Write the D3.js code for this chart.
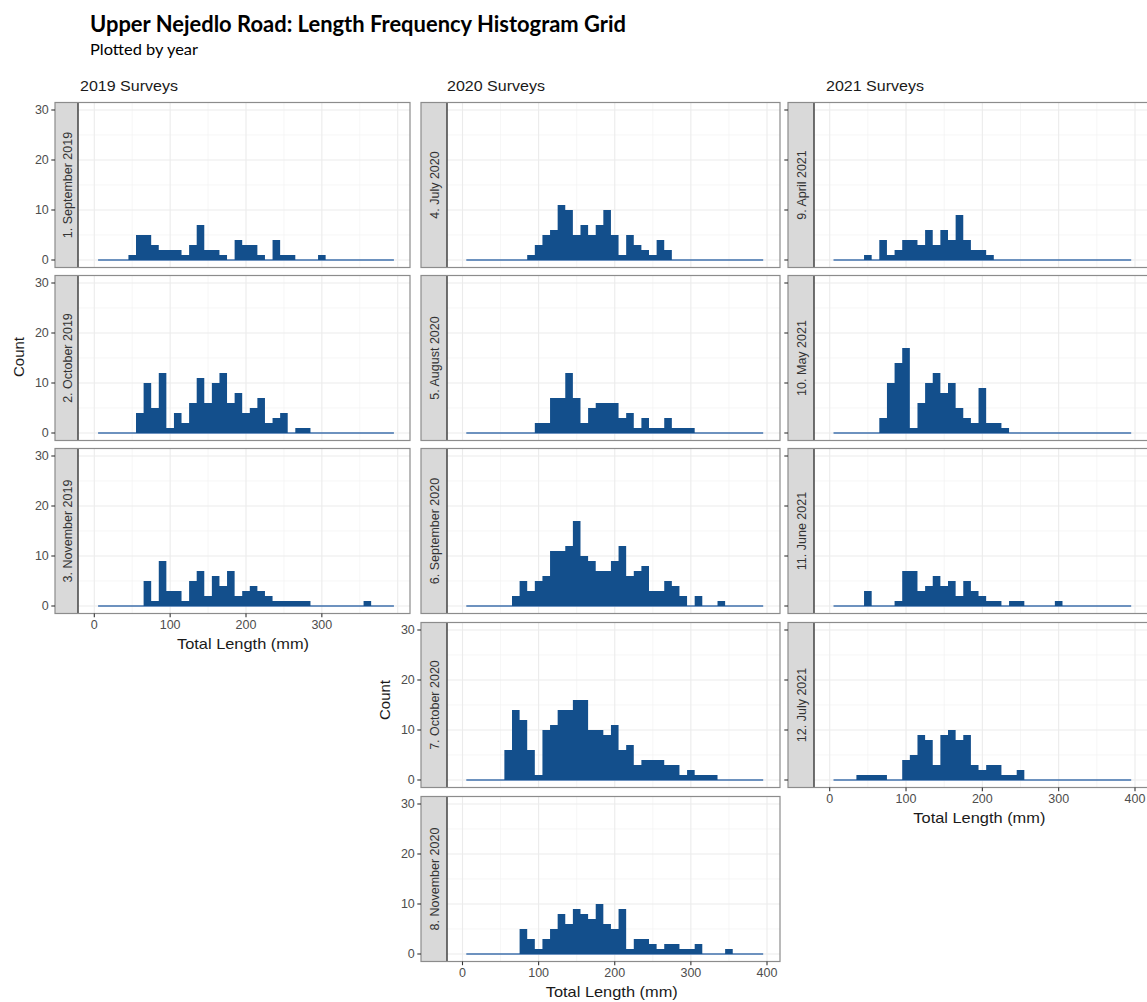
<!DOCTYPE html>
<html>
<head>
<meta charset="utf-8">
<script src="https://cdn.jsdelivr.net/npm/d3@7"></script>
<style>
  body { margin: 0; background: #fff; }
</style>
</head>
<body>
<div id="viz"></div>
<script>
// bin edges (mm), 10 mm wide bins
const binEdges = [5, 15, 25, 35, 45, 55, 65, 75, 85, 95, 105, 115, 125, 135, 145, 155, 165, 175, 185, 195,
                  205, 215, 225, 235, 245, 255, 265, 275, 285, 295, 305, 315, 325, 335, 345, 355, 365, 375, 385, 395];

const surveyLabels = ['1. September 2019', '2. October 2019', '3. November 2019',
                      '4. July 2020', '5. August 2020', '6. September 2020', '7. October 2020', '8. November 2020',
                      '9. April 2021', '10. May 2021', '11. June 2021', '12. July 2021'];
const columnTitles = ['2019 Surveys', '2020 Surveys', '2021 Surveys'];
const xTicks = [0, 100, 200, 300, 400];
const xMinor = [-50, 50, 150, 250, 350];
const yTicks = [0, 10, 20, 30];
const yMinor = [5, 15, 25];

// counts per bin, one array per survey
const sep2019 = [0,0,0,0,1,5,5,3,2,2, 2,1,3,7,2,2,1,0,4,3, 3,1,0,4,1,1,0,0,0,1, 0,0,0,0,0,0,0,0,0];
const oct2019 = [0,0,0,0,0,4,10,5,12,1, 4,2,6,11,6,10,12,6,8,4, 5,7,2,3,4,0,1,1,0,0, 0,0,0,0,0,0,0,0,0];
const nov2019 = [0,0,0,0,0,0,5,1,9,3, 3,1,5,7,2,6,4,7,2,3, 4,3,2,1,1,1,1,1,0,0, 0,0,0,0,0,1,0,0,0];
const jul2020 = [0,0,0,0,0,0,0,0,1,3, 5,6,11,10,5,7,5,7,10,5, 1,5,3,2,1,4,2,0,0,0, 0,0,0,0,0,0,0,0,0];
const aug2020 = [0,0,0,0,0,0,0,0,0,2, 2,7,7,12,7,2,5,6,6,6, 3,4,1,3,1,1,3,1,1,1, 0,0,0,0,0,0,0,0,0];
const sep2020 = [0,0,0,0,0,0,2,5,3,5, 6,11,11,12,17,10,9,7,7,9, 12,6,7,8,3,3,5,4,2,0, 2,0,0,1,0,0,0,0,0];
const oct2020 = [0,0,0,0,0,6,14,12,6,1, 10,11,14,14,16,16,10,10,9,11, 6,7,3,4,4,4,3,3,1,2, 1,1,1,0,0,0,0,0,0];
const nov2020 = [0,0,0,0,0,0,0,5,3,1, 3,5,8,6,9,8,7,10,6,5, 9,1,3,3,2,1,2,2,1,1, 2,0,0,0,1,0,0,0,0];
const apr2021 = [0,0,0,0,1,0,4,1,2,4, 4,3,6,3,6,4,9,4,2,2, 1,0,0,0,0,0,0,0,0,0, 0,0,0,0,0,0,0,0,0];
const may2021 = [0,0,0,0,0,0,3,10,14,17, 1,6,10,12,8,10,5,3,2,9, 2,2,1,0,0,0,0,0,0,0, 0,0,0,0,0,0,0,0,0];
const jun2021 = [0,0,0,0,3,0,0,0,1,7, 7,3,4,6,4,5,2,5,3,2, 1,1,0,1,1,0,0,0,0,1, 0,0,0,0,0,0,0,0,0];
const jul2021 = [0,0,0,1,1,1,1,0,0,4, 5,9,8,3,9,10,8,9,3,2, 3,3,1,1,2,0,0,0,0,0, 0,0,0,0,0,0,0,0,0];

const surveyCounts = [sep2019, oct2019, nov2019, jul2020, aug2020, sep2020, oct2020, nov2020,
                      apr2021, may2021, jun2021, jul2021];

// layout
const width = 1147, height = 1002;
const cols = [
  {left: 55,  right: 410,  strip: 23, x0: 94.3,  x400: 397.7, titleX: 80,  rows: [0, 1, 2]},
  {left: 421, right: 780,  strip: 26, x0: 462.5, x400: 767,   titleX: 447, rows: [0, 1, 2, 3, 4]},
  {left: 788, right: 1148, strip: 26, x0: 829.7, x400: 1135,  titleX: 826, rows: [0, 1, 2, 3]}
];
const rowTop = [102.5, 275.5, 448.5, 622.5, 796.5];
const panelH = 165;

const barFill = '#134f8c', baseStroke = '#3f70ad';
const axisFont = 'Liberation Sans, Arial, sans-serif';
const tickLen = 3.7;

const svg = d3.select('#viz').append('svg')
  .attr('width', width)
  .attr('height', height)
  .style('font-family', axisFont);

svg.append('text')
  .attr('x', 90).attr('y', 32)
  .attr('textLength', 536).attr('lengthAdjust', 'spacingAndGlyphs')
  .style('font-family', 'Lato, Open Sans, sans-serif')
  .style('font-weight', 'bold').style('font-size', '22px')
  .text('Upper Nejedlo Road: Length Frequency Histogram Grid');

svg.append('text')
  .attr('x', 90).attr('y', 55)
  .attr('textLength', 108).attr('lengthAdjust', 'spacingAndGlyphs')
  .style('font-family', 'Lato, Open Sans, sans-serif')
  .style('font-size', '15px')
  .text('Plotted by year');

columnTitles.forEach((t, i) => {
  svg.append('text')
    .attr('x', cols[i].titleX).attr('y', 91)
    .attr('textLength', 98).attr('lengthAdjust', 'spacingAndGlyphs')
    .style('font-size', '15px').style('fill', '#1a1a1a')
    .text(t);
});

let p = 0;
cols.forEach((c, ci) => {
  const x = d3.scaleLinear().domain([0, 400]).range([c.x0, c.x400]);
  c.rows.forEach((r, ri) => {
    const top = rowTop[r], bottom = top + panelH;
    const y = d3.scaleLinear().domain([-1.5, 31.5]).range([bottom, top]);
    const inner = c.left + c.strip;
    const counts = surveyCounts[p];
    const label = surveyLabels[p];
    p++;

    const g = svg.append('g').attr('class', 'panel');
    const clipId = 'clip' + p;
    g.append('clipPath').attr('id', clipId)
      .append('rect').attr('x', inner).attr('y', top).attr('width', c.right - inner).attr('height', panelH);

    const pg = g.append('g').attr('clip-path', `url(#${clipId})`);
    pg.append('rect').attr('x', inner).attr('y', top).attr('width', c.right - inner).attr('height', panelH).attr('fill', '#fff');

    // grid
    pg.append('g').selectAll('line').data(xMinor).join('line')
      .attr('x1', d => x(d)).attr('x2', d => x(d)).attr('y1', top).attr('y2', bottom)
      .attr('stroke', '#f2f2f2').attr('stroke-width', 0.7);
    pg.append('g').selectAll('line').data(yMinor).join('line')
      .attr('y1', d => y(d)).attr('y2', d => y(d)).attr('x1', inner).attr('x2', c.right)
      .attr('stroke', '#f2f2f2').attr('stroke-width', 0.7);
    pg.append('g').selectAll('line').data(xTicks).join('line')
      .attr('x1', d => x(d)).attr('x2', d => x(d)).attr('y1', top).attr('y2', bottom)
      .attr('stroke', '#ebebeb').attr('stroke-width', 1.1);
    pg.append('g').selectAll('line').data(yTicks).join('line')
      .attr('y1', d => y(d)).attr('y2', d => y(d)).attr('x1', inner).attr('x2', c.right)
      .attr('stroke', '#ebebeb').attr('stroke-width', 1.1);

    // zero baseline of the empty bins
    pg.append('line')
      .attr('x1', x(binEdges[0])).attr('x2', x(binEdges[binEdges.length - 1]))
      .attr('y1', y(0)).attr('y2', y(0))
      .attr('stroke', baseStroke).attr('stroke-width', 1.4);

    // histogram as one stepped area
    const steps = counts.map((v, i) => [binEdges[i], v]);
    steps.push([binEdges[counts.length], counts[counts.length - 1]]);
    const area = d3.area()
      .x(d => x(d[0]))
      .y0(y(0))
      .y1(d => y(d[1]))
      .curve(d3.curveStepAfter);
    pg.append('path')
      .datum(steps)
      .attr('d', area)
      .attr('fill', barFill);

    // strip
    g.append('rect')
      .attr('x', c.left).attr('y', top).attr('width', c.strip).attr('height', panelH)
      .attr('fill', '#d9d9d9');
    g.append('line')
      .attr('x1', inner).attr('x2', inner).attr('y1', top).attr('y2', bottom)
      .attr('stroke', '#4d4d4d').attr('stroke-width', 1.6);
    g.append('text')
      .attr('transform', `translate(${c.left + c.strip / 2 + 1},${top + panelH / 2}) rotate(-90)`)
      .attr('text-anchor', 'middle').attr('dominant-baseline', 'central')
      .style('font-size', '12.5px').style('fill', '#333')
      .text(label);

    // border
    g.append('rect')
      .attr('x', c.left).attr('y', top).attr('width', c.right - c.left).attr('height', panelH)
      .attr('fill', 'none').attr('stroke', '#8c8c8c').attr('stroke-width', 1.2);

    // y axis
    const showYTicks = ci !== 1 || r >= 3;
    const showYLabels = ci === 0 || (ci === 1 && r >= 3);
    if (showYTicks) {
      const ya = g.append('g');
      ya.selectAll('line').data(yTicks).join('line')
        .attr('x1', c.left - tickLen).attr('x2', c.left)
        .attr('y1', d => y(d)).attr('y2', d => y(d))
        .attr('stroke', '#333').attr('stroke-width', 1.1);
      if (showYLabels) {
        ya.selectAll('text').data(yTicks).join('text')
          .attr('x', c.left - tickLen - 2.5)
          .attr('y', d => y(d))
          .attr('dy', '0.35em')
          .attr('text-anchor', 'end')
          .style('font-size', '12.5px').style('fill', '#4d4d4d')
          .text(d => d);
      }
    }

    // x axis on last panel in column
    if (ri === c.rows.length - 1) {
      const ticks = ci === 0 ? xTicks.slice(0, 4) : xTicks;
      const xa = g.append('g');
      xa.selectAll('line').data(ticks).join('line')
        .attr('x1', d => x(d)).attr('x2', d => x(d))
        .attr('y1', bottom).attr('y2', bottom + tickLen)
        .attr('stroke', '#333').attr('stroke-width', 1.1);
      xa.selectAll('text').data(ticks).join('text')
        .attr('x', d => x(d))
        .attr('y', bottom + tickLen + 2.5)
        .attr('dy', '0.71em')
        .attr('text-anchor', 'middle')
        .style('font-size', '12.5px').style('fill', '#4d4d4d')
        .text(d => d);

      g.append('text')
        .attr('x', (c.x0 + c.x400) / 2 - 3).attr('y', bottom + 35)
        .attr('text-anchor', 'middle')
        .attr('textLength', 132).attr('lengthAdjust', 'spacingAndGlyphs')
        .style('font-size', '15px').style('fill', '#1a1a1a')
        .text('Total Length (mm)');
    }
  });
});

// y axis titles
svg.append('text')
  .attr('transform', 'translate(24,357) rotate(-90)')
  .attr('text-anchor', 'middle')
  .style('font-size', '15px').style('fill', '#1a1a1a')
  .text('Count');
svg.append('text')
  .attr('transform', 'translate(390,700) rotate(-90)')
  .attr('text-anchor', 'middle')
  .style('font-size', '15px').style('fill', '#1a1a1a')
  .text('Count');
</script>
</body>
</html>
